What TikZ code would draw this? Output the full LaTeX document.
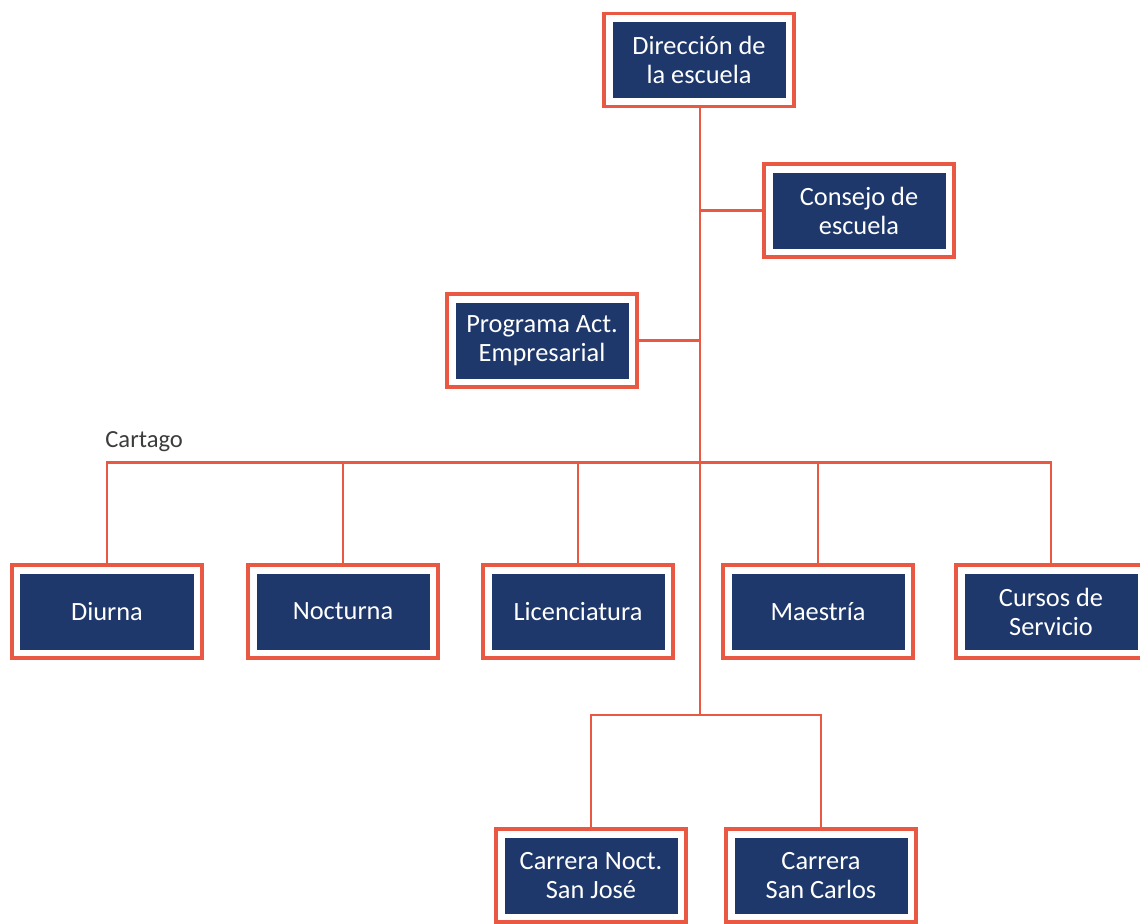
\documentclass[tikz,border=0pt]{standalone}
\usepackage{fontspec}
\setmainfont{Carlito}
\definecolor{orgred}{RGB}{232,88,66}
\definecolor{orgnavy}{RGB}{31,56,107}
\definecolor{labelgray}{RGB}{60,60,60}
\begin{document}
\begin{tikzpicture}[
    unit/.style={rectangle, draw=orgred, line width=1.8pt, fill=white,
        minimum width=3.8cm, minimum height=1.86cm, align=center, text=white,
        font=\fontsize{15}{16.5}\selectfont,
        path picture={\fill[orgnavy] ([shift={(0.17,0.17)}]path picture bounding box.south west)
            rectangle ([shift={(-0.17,-0.17)}]path picture bounding box.north east);}},
    link/.style={draw=orgred, line width=1.4pt}]
        \useasboundingbox (0,0) rectangle (22.8,-18.46);

        \node[unit] (dir) at (13.98,-1.2) {Dirección de\\la escuela};
        \node[unit] (consejo) at (17.18,-4.21) {Consejo de\\escuela};
        \node[unit] (programa) at (10.84,-6.81) {Programa Act.\\Empresarial};

        \node[unit] (diurna) at (2.14,-12.23) {Diurna};
        \node[unit] (nocturna) at (6.86,-12.23) {Nocturna};
        \node[unit] (lic) at (11.56,-12.23) {Licenciatura};
        \node[unit] (maestria) at (16.36,-12.23) {Maestría};
        \node[unit] (cursos) at (21.02,-12.23) {Cursos de\\Servicio};

        \node[unit] (noct) at (11.82,-17.51) {Carrera Noct.\\San José};
        \node[unit] (sancarlos) at (16.42,-17.51) {Carrera\\San Carlos};

        \node[anchor=base west, inner sep=0pt, text=labelgray, font=\fontsize{14}{16}\selectfont] (cartago) at (2.1,-8.94) {Cartago};

        \coordinate (top) at (14,-9.25);
        \coordinate (low) at (14,-14.3);

        \draw[link] (dir.south -| top) -- (low);
        \draw[link] (consejo.west) -- (consejo.west -| top);
        \draw[link] (programa.east) -- (programa.east -| top);

        \draw[link] (diurna.north) |- (cursos.north |- top) -- (cursos.north);
        \foreach \n in {nocturna, lic, maestria}
            \draw[link] (\n.north) -- (\n.north |- top);

        \draw[link] (noct.north) |- (sancarlos.north |- low) -- (sancarlos.north);
    \end{tikzpicture}
\end{document}
